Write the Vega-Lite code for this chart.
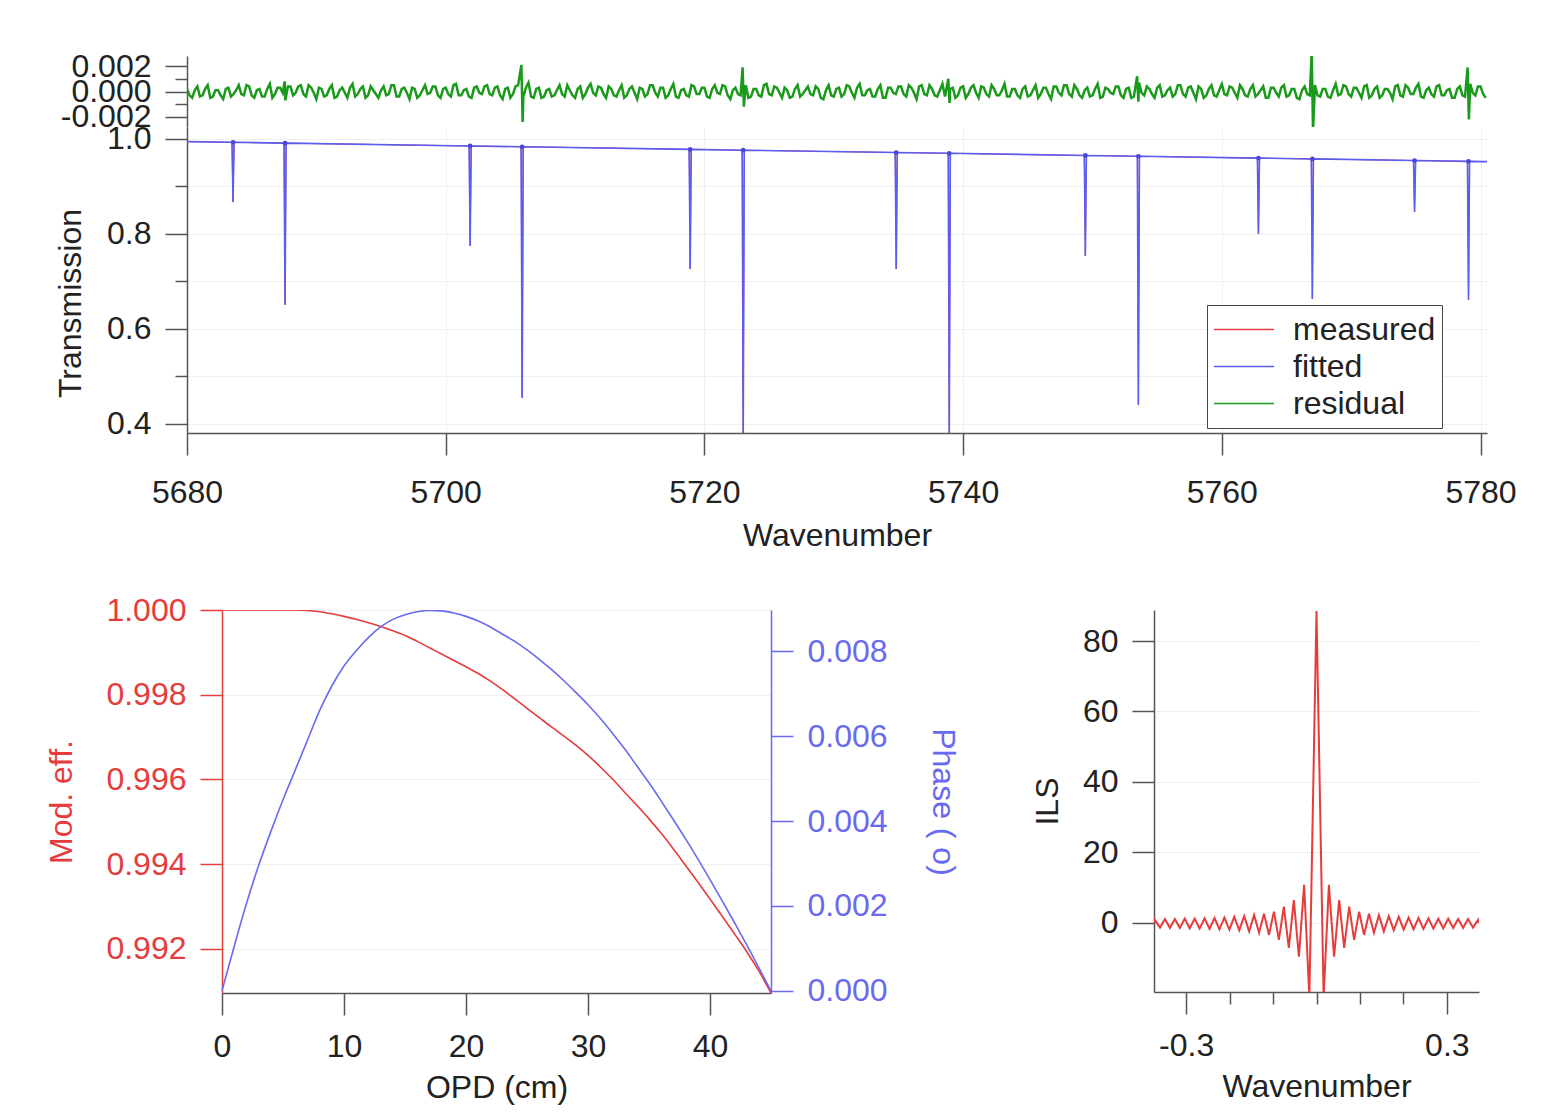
{
  "$schema": "https://vega.github.io/schema/vega-lite/v6.json",
  "background": "white",
  "padding": {"left": 45, "top": 50, "right": 5, "bottom": 5},
  "config": {
    "font": "Liberation Sans",
    "view": {"stroke": null},
    "axis": {
      "labelFont": "Liberation Sans", "titleFont": "Liberation Sans",
      "labelFontSize": 32, "titleFontSize": 32, "titleFontWeight": "normal",
      "labelColor": "#222", "titleColor": "#222",
      "domainColor": "#555", "tickColor": "#555", "domainWidth": 1.5, "tickWidth": 1.5,
      "tickSize": 22, "labelPadding": 14, "titlePadding": 16,
      "gridColor": "#f0f0f0", "gridWidth": 1,
      "labelFlush": false, "labelOverlap": false
    }
  },
  "datasets": {
    "resid": [
      {"w":5680.0,"r":0.0002},{"w":5680.2,"r":-0.0003},{"w":5680.4,"r":-0.0005},{"w":5680.6,"r":0.0001},{"w":5680.8,"r":0.0004},{"w":5681.0,"r":-0.0004},{"w":5681.2,"r":-0.0003},{"w":5681.4,"r":0.0002},{"w":5681.6,"r":0.0005},{"w":5681.8,"r":-0.0005},
      {"w":5682.0,"r":-0.0004},{"w":5682.2,"r":0.0001},{"w":5682.4,"r":0.0001},{"w":5682.6,"r":-0.0003},{"w":5682.8,"r":-0.0006},{"w":5683.0,"r":0.0002},{"w":5683.2,"r":0.0003},{"w":5683.4,"r":-0.0004},{"w":5683.6,"r":-0.0002},{"w":5683.8,"r":0.0001},
      {"w":5684.0,"r":0.0005},{"w":5684.2,"r":-0.0002},{"w":5684.4,"r":-0.0003},{"w":5684.6,"r":0.0005},{"w":5684.8,"r":0.0004},{"w":5685.0,"r":-0.0003},{"w":5685.2,"r":-0.0005},{"w":5685.4,"r":0.0001},{"w":5685.6,"r":0.0002},{"w":5685.8,"r":-0.0004},
      {"w":5686.0,"r":-0.0004},{"w":5686.2,"r":0.0002},{"w":5686.4,"r":0.0006},{"w":5686.6,"r":-0.0005},{"w":5686.8,"r":-0.0002},{"w":5687.0,"r":0.0003},{"w":5687.2,"r":0.0003},{"w":5687.4,"r":-0.0001},{"w":5687.55,"r":0.0008},{"w":5687.6,"r":-0.0007},{"w":5687.8,"r":0.0004},
      {"w":5688.0,"r":0.0004},{"w":5688.2,"r":-0.0003},{"w":5688.4,"r":-0.0001},{"w":5688.6,"r":0.0004},{"w":5688.8,"r":0.0005},{"w":5689.0,"r":-0.0002},{"w":5689.2,"r":-0.0004},{"w":5689.4,"r":0.0005},{"w":5689.6,"r":0.0003},{"w":5689.8,"r":-0.0001},
      {"w":5690.0,"r":-0.0006},{"w":5690.2,"r":0.0003},{"w":5690.4,"r":0.0002},{"w":5690.6,"r":-0.0004},{"w":5690.8,"r":-0.0003},{"w":5691.0,"r":0.0002},{"w":5691.2,"r":0.0005},{"w":5691.4,"r":-0.0005},{"w":5691.6,"r":-0.0004},{"w":5691.8,"r":0.0001},
      {"w":5692.0,"r":0.0003},{"w":5692.2,"r":-0.0001},{"w":5692.4,"r":-0.0005},{"w":5692.6,"r":0.0003},{"w":5692.8,"r":0.0006},{"w":5693.0,"r":-0.0004},{"w":5693.2,"r":-0.0002},{"w":5693.4,"r":0.0002},{"w":5693.6,"r":0.0004},{"w":5693.8,"r":-0.0005},
      {"w":5694.0,"r":-0.0003},{"w":5694.2,"r":0.0004},{"w":5694.4,"r":0.0001},{"w":5694.6,"r":-0.0002},{"w":5694.8,"r":-0.0005},{"w":5695.0,"r":0.0001},{"w":5695.2,"r":0.0004},{"w":5695.4,"r":-0.0003},{"w":5695.6,"r":-0.0002},{"w":5695.8,"r":0.0005},
      {"w":5696.0,"r":0.0005},{"w":5696.2,"r":-0.0004},{"w":5696.4,"r":-0.0004},{"w":5696.6,"r":0.0002},{"w":5696.8,"r":0.0003},{"w":5697.0,"r":-0.0001},{"w":5697.2,"r":-0.0006},{"w":5697.4,"r":0.0003},{"w":5697.6,"r":0.0002},{"w":5697.8,"r":-0.0005},
      {"w":5698.0,"r":-0.0003},{"w":5698.2,"r":0.0001},{"w":5698.4,"r":0.0005},{"w":5698.6,"r":-0.0002},{"w":5698.8,"r":-0.0001},{"w":5699.0,"r":0.0004},{"w":5699.2,"r":0.0004},{"w":5699.4,"r":-0.0003},{"w":5699.6,"r":-0.0005},{"w":5699.8,"r":0.0002},
      {"w":5700.0,"r":0.0003},{"w":5700.2,"r":-0.0002},{"w":5700.4,"r":-0.0004},{"w":5700.6,"r":0.0005},{"w":5700.8,"r":0.0006},{"w":5701.0,"r":-0.0003},{"w":5701.2,"r":-0.0003},{"w":5701.4,"r":0.0001},{"w":5701.6,"r":0.0002},{"w":5701.8,"r":-0.0004},
      {"w":5702.0,"r":-0.0005},{"w":5702.2,"r":0.0003},{"w":5702.4,"r":0.0004},{"w":5702.6,"r":-0.0001},{"w":5702.8,"r":-0.0002},{"w":5703.0,"r":0.0004},{"w":5703.2,"r":0.0005},{"w":5703.4,"r":-0.0002},{"w":5703.6,"r":-0.0003},{"w":5703.8,"r":0.0003},
      {"w":5704.0,"r":0.0004},{"w":5704.2,"r":-0.0003},{"w":5704.4,"r":-0.0006},{"w":5704.6,"r":0.0002},{"w":5704.8,"r":0.0003},{"w":5705.0,"r":-0.0005},{"w":5705.2,"r":-0.0002},{"w":5705.4,"r":0.0004},{"w":5705.6,"r":0.0005},{"w":5705.85,"r":0.0021},
      {"w":5705.95,"r":-0.0024},{"w":5706.0,"r":-0.0004},{"w":5706.2,"r":0.0003},{"w":5706.4,"r":0.0007},{"w":5706.6,"r":-0.0004},{"w":5706.8,"r":-0.0005},{"w":5707.0,"r":0.0002},{"w":5707.2,"r":0.0003},{"w":5707.4,"r":-0.0005},{"w":5707.6,"r":-0.0004},{"w":5707.8,"r":0.0001},
      {"w":5708.0,"r":0.0002},{"w":5708.2,"r":-0.0004},{"w":5708.4,"r":-0.0003},{"w":5708.6,"r":0.0001},{"w":5708.8,"r":0.0005},{"w":5709.0,"r":-0.0002},{"w":5709.2,"r":-0.0004},{"w":5709.4,"r":0.0005},{"w":5709.6,"r":0.0001},{"w":5709.8,"r":-0.0003},
      {"w":5710.0,"r":-0.0005},{"w":5710.2,"r":0.0002},{"w":5710.4,"r":0.0004},{"w":5710.6,"r":-0.0005},{"w":5710.8,"r":-0.0002},{"w":5711.0,"r":0.0003},{"w":5711.2,"r":0.0006},{"w":5711.4,"r":-0.0001},{"w":5711.6,"r":-0.0003},{"w":5711.8,"r":0.0004},
      {"w":5712.0,"r":0.0003},{"w":5712.2,"r":-0.0002},{"w":5712.4,"r":-0.0005},{"w":5712.6,"r":0.0004},{"w":5712.8,"r":0.0002},{"w":5713.0,"r":-0.0003},{"w":5713.2,"r":-0.0004},{"w":5713.4,"r":0.0001},{"w":5713.6,"r":0.0005},{"w":5713.8,"r":-0.0005},
      {"w":5714.0,"r":-0.0003},{"w":5714.2,"r":0.0002},{"w":5714.4,"r":0.0004},{"w":5714.6,"r":-0.0001},{"w":5714.8,"r":-0.0006},{"w":5715.0,"r":0.0003},{"w":5715.2,"r":0.0002},{"w":5715.4,"r":-0.0004},{"w":5715.6,"r":-0.0002},{"w":5715.8,"r":0.0005},
      {"w":5716.0,"r":0.0005},{"w":5716.2,"r":-0.0001},{"w":5716.4,"r":-0.0004},{"w":5716.6,"r":0.0003},{"w":5716.8,"r":0.0003},{"w":5717.0,"r":-0.0005},{"w":5717.2,"r":-0.0003},{"w":5717.4,"r":0.0002},{"w":5717.6,"r":0.0006},{"w":5717.8,"r":-0.0004},
      {"w":5718.0,"r":-0.0005},{"w":5718.2,"r":0.0001},{"w":5718.4,"r":0.0002},{"w":5718.6,"r":-0.0003},{"w":5718.8,"r":-0.0004},{"w":5719.0,"r":0.0005},{"w":5719.2,"r":0.0004},{"w":5719.4,"r":-0.0002},{"w":5719.6,"r":-0.0002},{"w":5719.8,"r":0.0003},
      {"w":5720.0,"r":0.0003},{"w":5720.2,"r":-0.0004},{"w":5720.4,"r":-0.0005},{"w":5720.6,"r":0.0002},{"w":5720.8,"r":0.0005},{"w":5721.0,"r":-0.0001},{"w":5721.2,"r":-0.0002},{"w":5721.4,"r":0.0005},{"w":5721.6,"r":0.0004},{"w":5721.8,"r":-0.0003},
      {"w":5722.0,"r":-0.0006},{"w":5722.2,"r":0.0001},{"w":5722.4,"r":0.0003},{"w":5722.6,"r":-0.0002},{"w":5722.8,"r":-0.0003},{"w":5722.95,"r":0.0019},{"w":5723.05,"r":-0.0012},{"w":5723.2,"r":0.0005},{"w":5723.4,"r":-0.0005},{"w":5723.6,"r":-0.0004},{"w":5723.8,"r":0.0002},
      {"w":5724.0,"r":0.0002},{"w":5724.2,"r":-0.0003},{"w":5724.4,"r":-0.0004},{"w":5724.6,"r":0.0005},{"w":5724.8,"r":0.0006},{"w":5725.0,"r":-0.0002},{"w":5725.2,"r":-0.0003},{"w":5725.4,"r":0.0004},{"w":5725.6,"r":0.0003},{"w":5725.8,"r":-0.0001},
      {"w":5726.0,"r":-0.0005},{"w":5726.2,"r":0.0003},{"w":5726.4,"r":0.0001},{"w":5726.6,"r":-0.0005},{"w":5726.8,"r":-0.0004},{"w":5727.0,"r":0.0002},{"w":5727.2,"r":0.0005},{"w":5727.4,"r":-0.0004},{"w":5727.6,"r":-0.0002},{"w":5727.8,"r":0.0001},
      {"w":5728.0,"r":0.0004},{"w":5728.2,"r":-0.0002},{"w":5728.4,"r":-0.0003},{"w":5728.6,"r":0.0004},{"w":5728.8,"r":0.0002},{"w":5729.0,"r":-0.0005},{"w":5729.2,"r":-0.0006},{"w":5729.4,"r":0.0001},{"w":5729.6,"r":0.0005},{"w":5729.8,"r":-0.0003},
      {"w":5730.0,"r":-0.0004},{"w":5730.2,"r":0.0002},{"w":5730.4,"r":0.0003},{"w":5730.6,"r":-0.0004},{"w":5730.8,"r":-0.0002},{"w":5731.0,"r":0.0005},{"w":5731.2,"r":0.0004},{"w":5731.4,"r":-0.0001},{"w":5731.6,"r":-0.0005},{"w":5731.8,"r":0.0003},
      {"w":5732.0,"r":0.0006},{"w":5732.2,"r":-0.0003},{"w":5732.4,"r":-0.0003},{"w":5732.6,"r":0.0001},{"w":5732.8,"r":0.0002},{"w":5733.0,"r":-0.0004},{"w":5733.2,"r":-0.0004},{"w":5733.4,"r":0.0002},{"w":5733.6,"r":0.0005},{"w":5733.8,"r":-0.0005},
      {"w":5734.0,"r":-0.0005},{"w":5734.2,"r":0.0003},{"w":5734.4,"r":0.0003},{"w":5734.6,"r":-0.0001},{"w":5734.8,"r":-0.0002},{"w":5735.0,"r":0.0004},{"w":5735.2,"r":0.0004},{"w":5735.4,"r":-0.0002},{"w":5735.6,"r":-0.0004},{"w":5735.8,"r":0.0005},
      {"w":5736.0,"r":0.0003},{"w":5736.2,"r":-0.0001},{"w":5736.4,"r":-0.0006},{"w":5736.6,"r":0.0004},{"w":5736.8,"r":0.0005},{"w":5737.0,"r":-0.0002},{"w":5737.2,"r":-0.0003},{"w":5737.4,"r":0.0005},{"w":5737.6,"r":0.0002},{"w":5737.8,"r":-0.0003},
      {"w":5738.0,"r":-0.0004},{"w":5738.2,"r":0.0001},{"w":5738.4,"r":0.0006},{"w":5738.6,"r":-0.0004},{"w":5738.85,"r":0.001},{"w":5738.95,"r":-0.0009},{"w":5739.0,"r":0.0002},{"w":5739.2,"r":0.0003},{"w":5739.4,"r":-0.0005},{"w":5739.6,"r":-0.0003},{"w":5739.8,"r":0.0003},
      {"w":5740.0,"r":0.0004},{"w":5740.2,"r":-0.0005},{"w":5740.4,"r":-0.0002},{"w":5740.6,"r":0.0003},{"w":5740.8,"r":0.0005},{"w":5741.0,"r":-0.0001},{"w":5741.2,"r":-0.0005},{"w":5741.4,"r":0.0004},{"w":5741.6,"r":0.0003},{"w":5741.8,"r":-0.0002},
      {"w":5742.0,"r":-0.0004},{"w":5742.2,"r":0.0005},{"w":5742.4,"r":0.0002},{"w":5742.6,"r":-0.0003},{"w":5742.8,"r":-0.0003},{"w":5743.0,"r":0.0001},{"w":5743.2,"r":0.0006},{"w":5743.4,"r":-0.0004},{"w":5743.6,"r":-0.0004},{"w":5743.8,"r":0.0002},
      {"w":5744.0,"r":0.0002},{"w":5744.2,"r":-0.0003},{"w":5744.4,"r":-0.0005},{"w":5744.6,"r":0.0002},{"w":5744.8,"r":0.0004},{"w":5745.0,"r":-0.0004},{"w":5745.2,"r":-0.0003},{"w":5745.4,"r":0.0001},{"w":5745.6,"r":0.0005},{"w":5745.8,"r":-0.0005},
      {"w":5746.0,"r":-0.0002},{"w":5746.2,"r":0.0003},{"w":5746.4,"r":0.0003},{"w":5746.6,"r":-0.0002},{"w":5746.8,"r":-0.0006},{"w":5747.0,"r":0.0004},{"w":5747.2,"r":0.0004},{"w":5747.4,"r":-0.0001},{"w":5747.6,"r":-0.0003},{"w":5747.8,"r":0.0005},
      {"w":5748.0,"r":0.0005},{"w":5748.2,"r":-0.0002},{"w":5748.4,"r":-0.0004},{"w":5748.6,"r":0.0005},{"w":5748.8,"r":0.0002},{"w":5749.0,"r":-0.0003},{"w":5749.2,"r":-0.0005},{"w":5749.4,"r":0.0001},{"w":5749.6,"r":0.0003},{"w":5749.8,"r":-0.0004},
      {"w":5750.0,"r":-0.0003},{"w":5750.2,"r":0.0002},{"w":5750.4,"r":0.0006},{"w":5750.6,"r":-0.0005},{"w":5750.8,"r":-0.0004},{"w":5751.0,"r":0.0003},{"w":5751.2,"r":0.0002},{"w":5751.4,"r":-0.0001},{"w":5751.6,"r":-0.0002},{"w":5751.8,"r":0.0004},
      {"w":5752.0,"r":0.0004},{"w":5752.2,"r":-0.0003},{"w":5752.4,"r":-0.0005},{"w":5752.6,"r":0.0002},{"w":5752.8,"r":0.0003},{"w":5753.0,"r":-0.0005},{"w":5753.2,"r":-0.0004},{"w":5753.45,"r":0.0012},{"w":5753.55,"r":-0.0008},{"w":5753.6,"r":0.0007},{"w":5753.8,"r":-0.0001},
      {"w":5754.0,"r":-0.0003},{"w":5754.2,"r":0.0004},{"w":5754.4,"r":0.0002},{"w":5754.6,"r":-0.0002},{"w":5754.8,"r":-0.0005},{"w":5755.0,"r":0.0003},{"w":5755.2,"r":0.0005},{"w":5755.4,"r":-0.0004},{"w":5755.6,"r":-0.0003},{"w":5755.8,"r":0.0001},
      {"w":5756.0,"r":0.0003},{"w":5756.2,"r":-0.0004},{"w":5756.4,"r":-0.0002},{"w":5756.6,"r":0.0005},{"w":5756.8,"r":0.0005},{"w":5757.0,"r":-0.0002},{"w":5757.2,"r":-0.0004},{"w":5757.4,"r":0.0003},{"w":5757.6,"r":0.0004},{"w":5757.8,"r":-0.0001},
      {"w":5758.0,"r":-0.0006},{"w":5758.2,"r":0.0004},{"w":5758.4,"r":0.0002},{"w":5758.6,"r":-0.0005},{"w":5758.8,"r":-0.0003},{"w":5759.0,"r":0.0002},{"w":5759.2,"r":0.0005},{"w":5759.4,"r":-0.0003},{"w":5759.6,"r":-0.0004},{"w":5759.8,"r":0.0001},
      {"w":5760.0,"r":0.0006},{"w":5760.2,"r":-0.0002},{"w":5760.4,"r":-0.0003},{"w":5760.6,"r":0.0004},{"w":5760.8,"r":0.0003},{"w":5761.0,"r":-0.0001},{"w":5761.2,"r":-0.0005},{"w":5761.4,"r":0.0005},{"w":5761.6,"r":0.0002},{"w":5761.8,"r":-0.0003},
      {"w":5762.0,"r":-0.0004},{"w":5762.2,"r":0.0002},{"w":5762.4,"r":0.0005},{"w":5762.6,"r":-0.0004},{"w":5762.8,"r":-0.0002},{"w":5763.0,"r":0.0001},{"w":5763.2,"r":0.0004},{"w":5763.4,"r":-0.0005},{"w":5763.6,"r":-0.0005},{"w":5763.8,"r":0.0003},
      {"w":5764.0,"r":0.0003},{"w":5764.2,"r":-0.0001},{"w":5764.4,"r":-0.0004},{"w":5764.6,"r":0.0003},{"w":5764.8,"r":0.0005},{"w":5765.0,"r":-0.0004},{"w":5765.2,"r":-0.0003},{"w":5765.4,"r":0.0002},{"w":5765.6,"r":0.0002},{"w":5765.8,"r":-0.0005},
      {"w":5766.0,"r":-0.0006},{"w":5766.2,"r":0.0001},{"w":5766.4,"r":0.0004},{"w":5766.6,"r":-0.0002},{"w":5766.8,"r":-0.0003},{"w":5766.95,"r":0.0031},{"w":5767.05,"r":-0.0031},{"w":5767.2,"r":0.0005},{"w":5767.4,"r":-0.0003},{"w":5767.6,"r":-0.0004},{"w":5767.8,"r":0.0002},
      {"w":5768.0,"r":0.0002},{"w":5768.2,"r":-0.0004},{"w":5768.4,"r":-0.0005},{"w":5768.6,"r":0.0001},{"w":5768.8,"r":0.0006},{"w":5769.0,"r":-0.0003},{"w":5769.2,"r":-0.0002},{"w":5769.4,"r":0.0005},{"w":5769.6,"r":0.0004},{"w":5769.8,"r":-0.0002},
      {"w":5770.0,"r":-0.0004},{"w":5770.2,"r":0.0003},{"w":5770.4,"r":0.0003},{"w":5770.6,"r":-0.0001},{"w":5770.8,"r":-0.0005},{"w":5771.0,"r":0.0004},{"w":5771.2,"r":0.0005},{"w":5771.4,"r":-0.0005},{"w":5771.6,"r":-0.0003},{"w":5771.8,"r":0.0002},
      {"w":5772.0,"r":0.0004},{"w":5772.2,"r":-0.0005},{"w":5772.4,"r":-0.0003},{"w":5772.6,"r":0.0002},{"w":5772.8,"r":0.0002},{"w":5773.0,"r":-0.0001},{"w":5773.2,"r":-0.0006},{"w":5773.4,"r":0.0004},{"w":5773.6,"r":0.0005},{"w":5773.8,"r":-0.0003},
      {"w":5774.0,"r":-0.0004},{"w":5774.2,"r":0.0005},{"w":5774.4,"r":0.0003},{"w":5774.6,"r":-0.0002},{"w":5774.8,"r":-0.0002},{"w":5775.0,"r":0.0003},{"w":5775.2,"r":0.0006},{"w":5775.4,"r":-0.0004},{"w":5775.6,"r":-0.0005},{"w":5775.8,"r":0.0001},
      {"w":5776.0,"r":0.0003},{"w":5776.2,"r":-0.0002},{"w":5776.4,"r":-0.0004},{"w":5776.6,"r":0.0004},{"w":5776.8,"r":0.0005},{"w":5777.0,"r":-0.0003},{"w":5777.2,"r":-0.0003},{"w":5777.4,"r":0.0001},{"w":5777.6,"r":0.0002},{"w":5777.8,"r":-0.0005},
      {"w":5778.0,"r":-0.0005},{"w":5778.2,"r":0.0002},{"w":5778.4,"r":0.0004},{"w":5778.6,"r":-0.0003},{"w":5778.8,"r":-0.0004},{"w":5779.0,"r":0.0019},{"w":5779.1,"r":-0.0022},{"w":5779.2,"r":0.0006},{"w":5779.4,"r":-0.0001},{"w":5779.6,"r":-0.0003},{"w":5779.8,"r":0.0004},
      {"w":5780.0,"r":0.0004},{"w":5780.2,"r":-0.0002},{"w":5780.4,"r":-0.0005}
    ],
    "trans": [
      {"w":5680.0,"T":0.9943},
      {"w":5683.48,"T":0.9928},{"w":5683.56,"T":0.867},{"w":5683.64,"T":0.9928},
      {"w":5687.5,"T":0.9911},{"w":5687.58,"T":0.651},{"w":5687.66,"T":0.9911},
      {"w":5701.81,"T":0.9851},{"w":5701.89,"T":0.775},{"w":5701.97,"T":0.9851},
      {"w":5705.83,"T":0.9834},{"w":5705.91,"T":0.455},{"w":5705.99,"T":0.9834},
      {"w":5718.82,"T":0.978},{"w":5718.9,"T":0.726},{"w":5718.98,"T":0.978},
      {"w":5722.92,"T":0.9762},{"w":5723.0,"T":0.37},{"w":5723.08,"T":0.9762},
      {"w":5734.75,"T":0.9713},{"w":5734.83,"T":0.726},{"w":5734.91,"T":0.9713},
      {"w":5738.85,"T":0.9696},{"w":5738.93,"T":0.37},{"w":5739.01,"T":0.9696},
      {"w":5749.37,"T":0.9651},{"w":5749.45,"T":0.754},{"w":5749.53,"T":0.9651},
      {"w":5753.47,"T":0.9634},{"w":5753.55,"T":0.44},{"w":5753.63,"T":0.9634},
      {"w":5762.75,"T":0.9595},{"w":5762.83,"T":0.8},{"w":5762.91,"T":0.9595},
      {"w":5766.92,"T":0.9578},{"w":5767.0,"T":0.663},{"w":5767.08,"T":0.9578},
      {"w":5774.82,"T":0.9544},{"w":5774.9,"T":0.846},{"w":5774.98,"T":0.9544},
      {"w":5778.99,"T":0.9527},{"w":5779.07,"T":0.661},{"w":5779.15,"T":0.9527},
      {"w":5780.5,"T":0.9521}
    ],
    "tops": [
      {"w":5683.56,"T":0.9928},{"w":5687.58,"T":0.9911},{"w":5701.89,"T":0.9851},{"w":5705.91,"T":0.9834},
      {"w":5718.9,"T":0.978},{"w":5723.0,"T":0.9762},{"w":5734.83,"T":0.9713},{"w":5738.93,"T":0.9696},
      {"w":5749.45,"T":0.9651},{"w":5753.55,"T":0.9634},{"w":5762.83,"T":0.9595},{"w":5767.0,"T":0.9578},
      {"w":5774.9,"T":0.9544},{"w":5779.07,"T":0.9527}
    ],
    "opd": [
      {"opd":0,"eff":1.0,"ph":0.0},{"opd":1,"eff":1.0,"ph":0.00105},{"opd":2,"eff":1.0,"ph":0.00205},{"opd":3,"eff":1.0,"ph":0.00295},
      {"opd":4,"eff":1.0,"ph":0.00375},{"opd":5,"eff":1.0,"ph":0.0045},{"opd":6,"eff":1.0,"ph":0.0052},{"opd":7,"eff":0.99999,"ph":0.0059},
      {"opd":8,"eff":0.99996,"ph":0.0066},{"opd":9,"eff":0.99991,"ph":0.00718},{"opd":10,"eff":0.99985,"ph":0.00765},{"opd":11,"eff":0.99978,"ph":0.00801},
      {"opd":12,"eff":0.9997,"ph":0.00832},{"opd":13,"eff":0.99961,"ph":0.00857},{"opd":14,"eff":0.99951,"ph":0.00875},{"opd":15,"eff":0.9994,"ph":0.00886},
      {"opd":16,"eff":0.99926,"ph":0.00893},{"opd":17,"eff":0.99911,"ph":0.00896},{"opd":18,"eff":0.99896,"ph":0.00895},{"opd":19,"eff":0.99881,"ph":0.0089},
      {"opd":20,"eff":0.99866,"ph":0.00882},{"opd":21,"eff":0.9985,"ph":0.00871},{"opd":22,"eff":0.99832,"ph":0.00857},{"opd":23,"eff":0.99812,"ph":0.0084},
      {"opd":24,"eff":0.9979,"ph":0.00823},{"opd":25,"eff":0.99768,"ph":0.00803},{"opd":26,"eff":0.99746,"ph":0.00781},{"opd":27,"eff":0.99724,"ph":0.00757},
      {"opd":28,"eff":0.99703,"ph":0.00731},{"opd":29,"eff":0.99681,"ph":0.00703},{"opd":30,"eff":0.99657,"ph":0.00674},{"opd":31,"eff":0.9963,"ph":0.00642},
      {"opd":32,"eff":0.99601,"ph":0.00607},{"opd":33,"eff":0.9957,"ph":0.0057},{"opd":34,"eff":0.99539,"ph":0.0053},{"opd":35,"eff":0.99507,"ph":0.0049},
      {"opd":36,"eff":0.99473,"ph":0.00447},{"opd":37,"eff":0.99436,"ph":0.00403},{"opd":38,"eff":0.99397,"ph":0.00358},{"opd":39,"eff":0.99358,"ph":0.00311},
      {"opd":40,"eff":0.99318,"ph":0.00262},{"opd":41,"eff":0.99277,"ph":0.00212},{"opd":42,"eff":0.99236,"ph":0.00161},{"opd":43,"eff":0.99194,"ph":0.00109},
      {"opd":44,"eff":0.99148,"ph":0.00055},{"opd":45,"eff":0.99096,"ph":0.0}
    ],
    "ils": [
      {"x":-0.372,"v":0.0},{"x":-0.3716,"v":0.8},{"x":-0.3602,"v":-1.3},{"x":-0.3488,"v":1.1},{"x":-0.3374,"v":-1.4},{"x":-0.326,"v":1.1},
      {"x":-0.3146,"v":-1.4},{"x":-0.3032,"v":1.2},{"x":-0.2918,"v":-1.5},{"x":-0.2804,"v":1.2},{"x":-0.269,"v":-1.6},{"x":-0.2576,"v":1.3},
      {"x":-0.2462,"v":-1.7},{"x":-0.2348,"v":1.4},{"x":-0.2234,"v":-1.8},{"x":-0.212,"v":1.5},{"x":-0.2006,"v":-1.9},{"x":-0.1892,"v":1.7},
      {"x":-0.1778,"v":-2.1},{"x":-0.1664,"v":1.9},{"x":-0.155,"v":-2.4},{"x":-0.1436,"v":2.2},{"x":-0.1322,"v":-2.8},{"x":-0.1208,"v":2.6},
      {"x":-0.1094,"v":-3.4},{"x":-0.098,"v":3.2},{"x":-0.0866,"v":-4.8},{"x":-0.0752,"v":4.6},{"x":-0.0637,"v":-7.1},{"x":-0.0522,"v":6.5},
      {"x":-0.0405,"v":-9.6},{"x":-0.0285,"v":10.8},{"x":-0.0164,"v":-21},{"x":0.0,"v":88.5},
      {"x":0.0164,"v":-21},{"x":0.0285,"v":10.8},{"x":0.0405,"v":-9.6},{"x":0.0522,"v":6.5},{"x":0.0637,"v":-7.1},{"x":0.0752,"v":4.6},
      {"x":0.0866,"v":-4.8},{"x":0.098,"v":3.2},{"x":0.1094,"v":-3.4},{"x":0.1208,"v":2.6},{"x":0.1322,"v":-2.8},{"x":0.1436,"v":2.2},
      {"x":0.155,"v":-2.4},{"x":0.1664,"v":1.9},{"x":0.1778,"v":-2.1},{"x":0.1892,"v":1.7},{"x":0.2006,"v":-1.9},{"x":0.212,"v":1.5},
      {"x":0.2234,"v":-1.8},{"x":0.2348,"v":1.4},{"x":0.2462,"v":-1.7},{"x":0.2576,"v":1.3},{"x":0.269,"v":-1.6},{"x":0.2804,"v":1.2},
      {"x":0.2918,"v":-1.5},{"x":0.3032,"v":1.2},{"x":0.3146,"v":-1.4},{"x":0.326,"v":1.1},{"x":0.3374,"v":-1.4},{"x":0.3488,"v":1.1},
      {"x":0.3602,"v":-1.3},{"x":0.3716,"v":0.8},{"x":0.372,"v":0.0}
    ]
  },
  "spacing": 43,
  "resolve": {"scale": {"color": "independent"}},
  "vconcat": [
    {
      "spacing": 0,
      "bounds": "flush",
      "resolve": {"scale": {"color": "independent"}},
      "vconcat": [
        {
          "width": 1300, "height": 71,
          "data": {"name": "resid"},
          "mark": {"type": "line", "color": "#1a9a1a", "strokeWidth": 2.5, "clip": true},
          "encoding": {
            "x": {"field": "w", "type": "quantitative", "scale": {"domain": [5680, 5780.5], "nice": false, "zero": false}, "axis": null},
            "y": {"field": "r", "type": "quantitative", "scale": {"domain": [-0.0028, 0.0028], "nice": false, "zero": false},
              "axis": {"title": null, "grid": false, "values": [-0.002, -0.001, 0, 0.001, 0.002],
                "labelExpr": "(abs(datum.value) > 0.0005 && abs(datum.value) < 0.0015) ? '' : replace(format(datum.value, '.3f'), '\u2212', '-')",
                "tickSize": {"condition": {"test": "abs(datum.value) > 0.0005 && abs(datum.value) < 0.0015", "value": 12}, "value": 22}}}
          }
        },
        {
          "width": 1300, "height": 306,
          "data": {"name": "trans"},
          "encoding": {
            "x": {"field": "w", "type": "quantitative", "scale": {"domain": [5680, 5780.5], "nice": false, "zero": false},
              "axis": {"title": "Wavenumber", "values": [5680, 5700, 5720, 5740, 5760, 5780], "format": "d", "grid": true, "labelPadding": 22, "titlePadding": 12}},
            "y": {"field": "T", "type": "quantitative", "scale": {"domain": [0.381, 1.025], "nice": false, "zero": false},
              "axis": {"title": "Transmission", "values": [0.4, 0.5, 0.6, 0.7, 0.8, 0.9, 1.0], "grid": true, "titlePadding": 19, "titleY": 176,
                "labelExpr": "round(datum.value * 10) % 2 == 1 ? '' : format(datum.value, '.1f')",
                "tickSize": {"condition": {"test": "round(datum.value * 10) % 2 == 1", "value": 12}, "value": 22}}}
          },
          "layer": [
            {
              "mark": {"type": "line", "strokeWidth": 1, "clip": true},
              "encoding": {
                "color": {"datum": "measured", "type": "nominal",
                  "scale": {"domain": ["measured", "fitted", "residual"], "range": ["#e63c3c", "#5c5cf0", "#1a9a1a"]},
                  "legend": {"title": null, "orient": "none", "legendX": 1020, "legendY": 178,
                    "symbolType": "stroke", "symbolSize": 3600, "symbolStrokeWidth": 1.5, "clipHeight": 37,
                    "labelFont": "Liberation Sans", "labelFontSize": 32, "labelColor": "#222", "labelOffset": 18,
                    "strokeColor": "#444", "fillColor": "white", "padding": 6, "rowPadding": 0}}
              }
            },
            {
              "mark": {"type": "line", "strokeWidth": 1.6, "clip": true},
              "encoding": {"color": {"datum": "fitted", "type": "nominal"}}
            },
            {
              "data": {"name": "tops"},
              "mark": {"type": "point", "filled": true, "size": 22, "color": "#4646d8", "opacity": 1}
            }
          ]
        }
      ]
    },
    {
      "spacing": 72,
      "hconcat": [
        {
          "width": 584, "height": 383,
          "data": {"name": "opd"},
          "encoding": {
            "x": {"field": "opd", "type": "quantitative", "scale": {"domain": [0, 45], "nice": false, "range": [35, 584]},
              "axis": {"title": "OPD (cm)", "values": [0, 10, 20, 30, 40], "grid": false, "labelPadding": 16, "titlePadding": 10}}
          },
          "layer": [
            {
              "mark": {"type": "line", "color": "#e63c3c", "strokeWidth": 1.6, "clip": true, "interpolate": "monotone"},
              "encoding": {
                "y": {"field": "eff", "type": "quantitative", "scale": {"domain": [0.99096, 1.0], "nice": false, "zero": false},
                  "axis": {"orient": "left", "offset": -35, "title": "Mod. eff.", "values": [0.992, 0.994, 0.996, 0.998, 1.0], "format": ".3f", "grid": true,
                    "labelColor": "#e63c3c", "titleColor": "#e63c3c", "domainColor": "#e63c3c", "tickColor": "#e63c3c", "titlePadding": 27}}
              }
            },
            {
              "mark": {"type": "line", "color": "#6a6af0", "strokeWidth": 1.6, "clip": true, "interpolate": "monotone"},
              "encoding": {
                "y": {"field": "ph", "type": "quantitative", "scale": {"domain": [-0.00005, 0.00897], "nice": false, "zero": false},
                  "axis": {"orient": "right", "title": "Phase ( o)", "values": [0, 0.002, 0.004, 0.006, 0.008], "format": ".3f", "grid": false,
                    "labelColor": "#6a6af0", "titleColor": "#6a6af0", "domainColor": "#6a6af0", "tickColor": "#6a6af0", "titlePadding": 38}}
              }
            }
          ],
          "resolve": {"scale": {"y": "independent"}}
        },
        {
          "width": 325, "height": 382,
          "data": {"name": "ils"},
          "mark": {"type": "line", "color": "#e63c3c", "strokeWidth": 2, "clip": true},
          "encoding": {
            "x": {"field": "x", "type": "quantitative", "scale": {"domain": [-0.374, 0.374], "nice": false, "zero": false},
              "axis": {"title": "Wavenumber", "values": [-0.3, -0.2, -0.1, 0, 0.1, 0.2, 0.3], "grid": false, "labelPadding": 16, "titlePadding": 10,
                "labelExpr": "abs(datum.value) > 0.25 ? replace(format(datum.value, '.1f'), '\u2212', '-') : ''",
                "tickSize": {"condition": {"test": "abs(datum.value) < 0.25", "value": 12}, "value": 22}}},
            "y": {"field": "v", "type": "quantitative", "scale": {"domain": [-19.6, 88.8], "nice": false, "zero": false},
              "axis": {"title": "ILS", "values": [0, 20, 40, 60, 80], "grid": true, "titlePadding": 18}}
          }
        }
      ]
    }
  ]
}
